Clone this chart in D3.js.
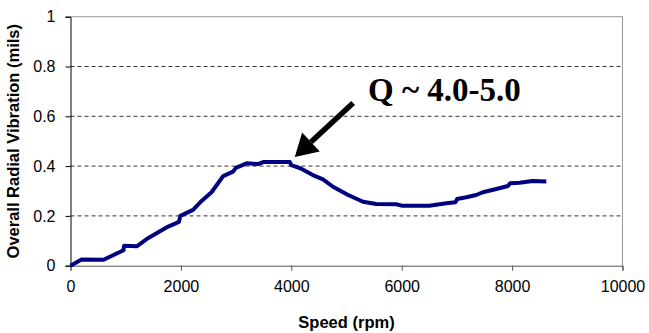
<!DOCTYPE html>
<html><head><meta charset="utf-8">
<script src="https://cdn.jsdelivr.net/npm/d3@7"></script>
<style>body{margin:0;background:#fff}svg{display:block}</style>
</head><body>
<svg id="chart" width="649" height="333"></svg>
<script>
const speeds = [0,200,600,960,970,1200,1380,1590,1770,1965,1990,2220,2375,2555,2765,2945,2995,3190,3400,3490,3975,4000,4155,4390,4575,4755,5030,5300,5540,5900,6000,6500,6810,6975,7005,7170,7350,7470,7715,7925,7965,8135,8375,8620];
const vibration = [0,0.025,0.024,0.062,0.08,0.078,0.107,0.134,0.157,0.176,0.2,0.224,0.26,0.295,0.36,0.378,0.393,0.411,0.408,0.416,0.416,0.404,0.392,0.364,0.347,0.317,0.284,0.257,0.248,0.247,0.241,0.241,0.251,0.255,0.268,0.275,0.284,0.295,0.308,0.32,0.331,0.333,0.34,0.338];
const xTicks = [0,2000,4000,6000,8000,10000];
const yTicks = [0,0.2,0.4,0.6,0.8,1];
const yTickLabels = ["0","0.2","0.4","0.6","0.8","1"];
const annotationText = "Q ~ 4.0-5.0";
const arrowTip = [4063, 0.437];
const arrowTail = [5120, 0.653];
const annotationAt = [5390, 0.662];

const svg = d3.select("#chart");
const x = d3.scaleLinear().domain([0,10000]).range([70.5,622.5]);
const y = d3.scaleLinear().domain([0,1]).range([265.7,16.7]);

// gridlines
svg.append("g").selectAll("line").data(yTicks.filter(d=>d>0&&d<1)).join("line")
  .attr("x1",x(0)).attr("x2",x(10000)).attr("y1",d=>y(d)).attr("y2",d=>y(d))
  .attr("stroke","#333").attr("stroke-width",1).attr("stroke-dasharray","4,3");
// top & right border
svg.append("line").attr("x1",x(0)).attr("x2",x(10000)).attr("y1",y(1)).attr("y2",y(1)).attr("stroke","#999");
svg.append("line").attr("x1",x(10000)).attr("x2",x(10000)).attr("y1",y(1)).attr("y2",y(0)).attr("stroke","#999");

// axes
const xAxis = svg.append("g").attr("transform",`translate(0,${y(0)})`)
  .call(d3.axisBottom(x).tickValues(xTicks).tickSize(5).tickPadding(10).tickFormat(d3.format("d")));
xAxis.select(".domain").attr("stroke","#555");
xAxis.selectAll(".tick line").attr("stroke","#555");
xAxis.selectAll("text").attr("font-family","Liberation Sans, Arial, sans-serif").attr("font-size",16).attr("fill","#000");

const yAxis = svg.append("g").attr("transform",`translate(${x(0)},0)`)
  .call(d3.axisLeft(y).tickValues(yTicks).tickSize(5).tickPadding(10).tickFormat((d,i)=>yTickLabels[i]));
yAxis.select(".domain").attr("stroke","#000");
yAxis.selectAll(".tick line").attr("stroke","#000");
yAxis.selectAll("text").attr("font-family","Liberation Sans, Arial, sans-serif").attr("font-size",16).attr("fill","#000");

// line
const data = speeds.map((s,i)=>[s,vibration[i]]);
svg.append("path").datum(data)
  .attr("d", d3.line().x(d=>x(d[0])).y(d=>y(d[1])))
  .attr("fill","none").attr("stroke","#000080").attr("stroke-width",4).attr("stroke-linejoin","round");

// axis titles
svg.append("text").attr("x",(x(0)+x(10000))/2).attr("y",328)
  .attr("text-anchor","middle").attr("font-family","Liberation Sans, Arial, sans-serif")
  .attr("font-weight","bold").attr("font-size",16.5).text("Speed (rpm)");
svg.append("text").attr("transform",`translate(19,${(y(0)+y(1))/2}) rotate(-90)`)
  .attr("text-anchor","middle").attr("font-family","Liberation Sans, Arial, sans-serif")
  .attr("font-weight","bold").attr("font-size",16.5).text("Overall Radial Vibration (mils)");

// arrow
const tx = x(arrowTip[0]), ty = y(arrowTip[1]);
const sx = x(arrowTail[0]), sy = y(arrowTail[1]);
const ang = Math.atan2(sy-ty, sx-tx);
const headLen = 22, headHalf = 13;
const bx = tx + headLen*Math.cos(ang), by = ty + headLen*Math.sin(ang);
const px = -Math.sin(ang), py = Math.cos(ang);
svg.append("line").attr("x1",sx).attr("y1",sy).attr("x2",bx).attr("y2",by)
  .attr("stroke","#000").attr("stroke-width",5.5);
svg.append("polygon").attr("points",[[tx,ty],[bx+px*headHalf,by+py*headHalf],[bx-px*headHalf,by-py*headHalf]].map(p=>p.join(",")).join(" "))
  .attr("fill","#000");

svg.append("text").attr("x",x(annotationAt[0])).attr("y",y(annotationAt[1]))
  .attr("font-family","Liberation Serif, Times New Roman, serif").attr("font-weight","bold")
  .attr("font-size",33).text(annotationText);
</script>
</body></html>
